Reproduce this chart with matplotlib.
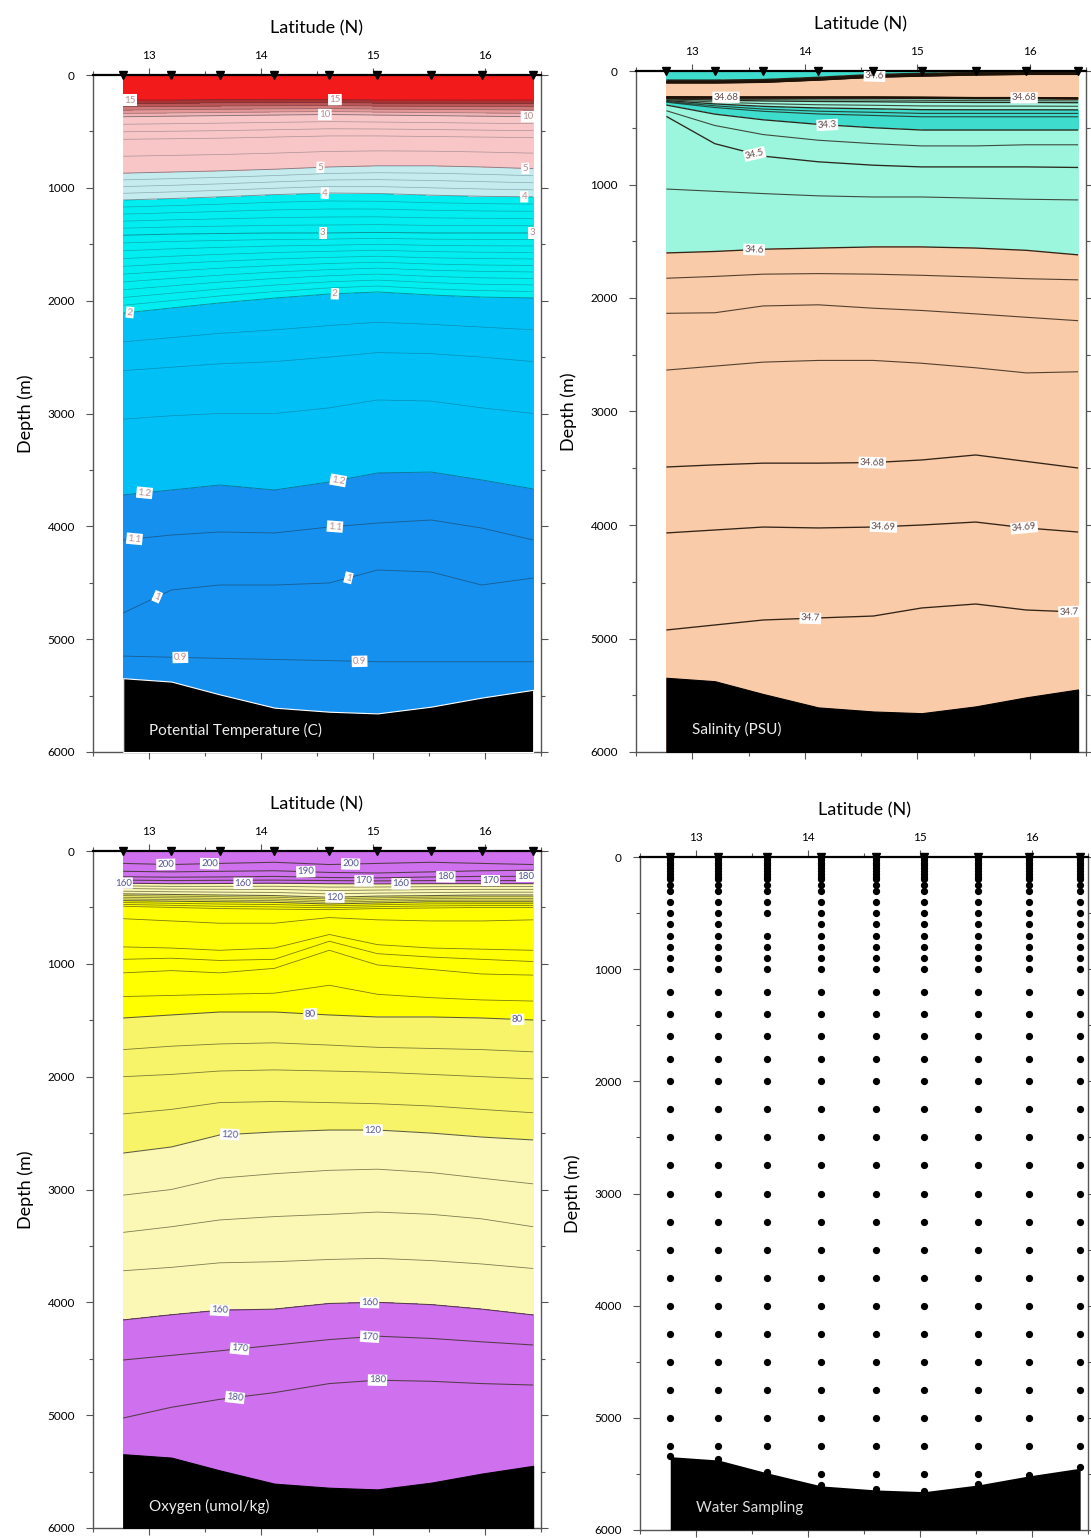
import numpy as np
import matplotlib
matplotlib.use('Agg')
import matplotlib.pyplot as plt

plt.rcParams['font.family'] = ['Lato', 'DejaVu Sans']

W, H = 1091, 1538

# station positions (deg N) and bottom depth (m)
lat = [12.77, 13.20, 13.63, 14.12, 14.61, 15.04, 15.52, 15.97, 16.43]
bottom = [5346, 5376, 5489, 5607, 5643, 5658, 5598, 5518, 5449]

# potential temperature: value of each isotherm and its depth at every station
temp_val = [26.0, 20.0, 15.0, 10.0, 7.0, 5.0, 4.0, 3.0, 2.0, 1.6, 1.4, 1.2, 1.1, 1.0, 0.9, 0.85]
temp_dep = [
    [0, 0, 0, 0, 0, 0, 0, 0, 0],
    [140, 140, 135, 135, 130, 130, 130, 130, 135],
    [222, 222, 218, 218, 218, 222, 222, 222, 222],
    [370, 365, 360, 355, 350, 355, 360, 365, 370],
    [570, 565, 560, 550, 540, 540, 545, 550, 555],
    [870, 860, 850, 835, 815, 805, 805, 815, 830],
    [1108, 1095, 1080, 1060, 1046, 1050, 1065, 1075, 1080],
    [1420, 1410, 1405, 1400, 1400, 1395, 1400, 1400, 1400],
    [2110, 2065, 2020, 1977, 1941, 1923, 1950, 1968, 1976],
    [2620, 2590, 2560, 2540, 2500, 2460, 2470, 2500, 2540],
    [3050, 3020, 3000, 3000, 2950, 2880, 2890, 2950, 3000],
    [3722, 3678, 3634, 3678, 3607, 3527, 3519, 3589, 3669],
    [4121, 4077, 4050, 4059, 4006, 3971, 3944, 4015, 4121],
    [4768, 4564, 4520, 4520, 4502, 4387, 4405, 4520, 4458],
    [5150, 5160, 5170, 5180, 5190, 5200, 5200, 5200, 5200],
    [6000, 6000, 6000, 6000, 6000, 6000, 6000, 6000, 6000],
]

# salinity
sal_val = [34.20, 34.30, 34.60, 34.71, 34.74, 34.71, 34.60, 34.18, 34.30, 34.40, 34.50,
           34.55, 34.60, 34.62, 34.64, 34.66, 34.68, 34.69, 34.70, 34.71]
sal_dep = [
    [0, 0, 0, 0, 0, 0, 0, 0, 0],
    [80, 80, 75, 55, 30, 20, 12, 8, 8],
    [95, 95, 90, 70, 45, 35, 25, 20, 20],
    [106, 106, 101, 81, 56, 46, 36, 31, 31],
    [165, 165, 165, 165, 165, 165, 165, 165, 165],
    [226, 228, 228, 228, 228, 230, 233, 233, 236],
    [238, 240, 240, 240, 240, 242, 245, 245, 248],
    [270, 310, 340, 360, 370, 380, 380, 380, 380],
    [300, 380, 430, 470, 500, 520, 520, 520, 520],
    [350, 480, 560, 610, 640, 660, 660, 650, 650],
    [400, 640, 750, 800, 830, 845, 845, 845, 850],
    [1040, 1060, 1080, 1100, 1110, 1110, 1120, 1130, 1136],
    [1603, 1590, 1570, 1560, 1550, 1550, 1560, 1580, 1620],
    [1826, 1810, 1790, 1785, 1790, 1800, 1815, 1830, 1840],
    [2135, 2130, 2070, 2060, 2090, 2110, 2140, 2170, 2200],
    [2635, 2600, 2565, 2550, 2550, 2575, 2615, 2660, 2650],
    [3489, 3470, 3455, 3455, 3450, 3427, 3383, 3440, 3498],
    [4070, 4044, 4018, 4026, 4018, 4000, 3974, 4026, 4062],
    [4925, 4881, 4837, 4819, 4802, 4731, 4696, 4749, 4767],
    [6000, 6000, 6000, 6000, 6000, 6000, 6000, 6000, 6000],
]

# dissolved oxygen (umol/kg)
oxy_val = [204, 200, 190, 180, 170, 160, 120, 80, 50, 40, 36, 40, 50, 60, 70, 80,
           90, 100, 110, 120, 130, 140, 150, 160, 170, 180, 186]
oxy_dep = [
    [0, 0, 0, 0, 0, 0, 0, 0, 0],
    [110, 120, 110, 100, 120, 110, 100, 110, 120],
    [180, 185, 180, 175, 190, 195, 185, 175, 170],
    [228, 232, 230, 225, 235, 238, 230, 225, 225],
    [258, 262, 260, 258, 262, 265, 262, 262, 262],
    [285, 290, 288, 285, 290, 292, 290, 290, 290],
    [380, 385, 390, 395, 410, 400, 395, 390, 390],
    [440, 445, 450, 455, 470, 460, 450, 450, 450],
    [490, 500, 510, 515, 520, 510, 505, 500, 500],
    [600, 620, 640, 640, 590, 610, 620, 620, 610],
    [760, 760, 780, 780, 680, 730, 760, 760, 760],
    [850, 860, 880, 860, 740, 830, 860, 870, 880],
    [960, 950, 970, 960, 800, 910, 940, 960, 980],
    [1080, 1060, 1080, 1040, 880, 1010, 1050, 1090, 1100],
    [1290, 1280, 1270, 1260, 1190, 1270, 1300, 1320, 1330],
    [1480, 1453, 1427, 1427, 1453, 1471, 1471, 1480, 1498],
    [1760, 1730, 1710, 1700, 1720, 1740, 1750, 1760, 1780],
    [2000, 1980, 1950, 1940, 1950, 1960, 1980, 2000, 2020],
    [2330, 2290, 2230, 2220, 2230, 2240, 2260, 2290, 2320],
    [2677, 2623, 2517, 2490, 2473, 2473, 2500, 2535, 2561],
    [3050, 3000, 2900, 2860, 2830, 2820, 2850, 2900, 2950],
    [3380, 3330, 3270, 3240, 3220, 3200, 3220, 3260, 3330],
    [3720, 3690, 3650, 3640, 3620, 3610, 3630, 3660, 3700],
    [4156, 4110, 4070, 4060, 4010, 4000, 4020, 4060, 4112],
    [4511, 4470, 4430, 4380, 4330, 4300, 4320, 4350, 4378],
    [5025, 4930, 4860, 4800, 4720, 4690, 4700, 4720, 4733],
    [6000, 6000, 6000, 6000, 6000, 6000, 6000, 6000, 6000],
]

# bottle depths (m); plus one near-bottom bottle at each station
bottles = [5, 25, 50, 75, 100, 125, 150, 175, 200, 250, 300, 400, 500, 600, 700,
           800, 900, 1000, 1200, 1400, 1600, 1800, 2000, 2250, 2500, 2750, 3000,
           3250, 3500, 3750, 4000, 4250, 4500, 4750, 5000, 5250, 5500]
skipped = {2: [600]}

# contour levels, band colours and label places
temp_bands = [0.8, 1.2, 2.0, 4.0, 5.0, 10, 11, 12, 13, 14, 15, 30]
temp_cols = ['#1690ee', '#00c0f6', '#00eef0', '#c4ecee', '#f8c6c6', '#f2b4b4',
             '#e49898', '#d07a7a', '#bc5656', '#a83434', '#f21a1a']
temp_lines = [1.4, 1.6, 1.8, 2.1, 2.2, 2.3, 2.4, 2.5, 2.6, 2.7, 2.8, 2.9, 3.2, 3.4,
              3.6, 3.8, 4.25, 4.5, 4.75, 6, 7, 8, 9, 11, 12, 13, 14]
temp_lab = [0.9, 1.0, 1.1, 1.2, 2, 3, 4, 5, 10, 15]
temp_pos = [(12.83, 222), (14.66, 220), (14.57, 355), (16.38, 370), (14.53, 815),
            (16.36, 830), (14.57, 1050), (16.35, 1080), (14.55, 1400), (16.42, 1400),
            (12.83, 2110), (14.66, 1945), (12.96, 3710), (14.69, 3600), (12.87, 4110),
            (14.66, 4005), (13.08, 4640), (14.78, 4450), (13.28, 5162), (14.88, 5200)]

sal_bands = [34.0, 34.3, 34.6, 35.0]
sal_cols = ['#3edccc', '#9cf6de', '#f9cba8']
sal_lines = [34.2, 34.4, 34.55, 34.62, 34.64, 34.66]
sal_lab = [34.3, 34.5, 34.6, 34.68, 34.69, 34.7]
sal_pos = [(14.62, 45), (13.3, 232), (15.95, 238), (14.2, 485), (13.55, 755),
           (13.55, 1572), (14.6, 3452), (14.7, 4018), (15.95, 4026), (14.05, 4820),
           (16.35, 4767)]

oxy_bands = [0, 80, 120, 160, 250]
oxy_cols = ['#ffff00', '#f7f46a', '#fbf8b6', '#cf70ee']
oxy_lines = [40, 50, 60, 70, 90, 100, 110, 130, 140, 150]
oxy_lab = [80, 120, 160, 170, 180, 190, 200]
oxy_pos = [(12.62, 288), (13.15, 115), (13.54, 112), (13.84, 286), (14.4, 183),
           (14.8, 115), (14.92, 262), (15.25, 291), (15.65, 228), (16.05, 262),
           (16.36, 225), (14.66, 405), (14.44, 1445), (16.29, 1495), (13.72, 2510),
           (15.0, 2470), (13.63, 4070), (14.97, 4003), (13.81, 4420), (14.97, 4300),
           (13.77, 4870), (15.04, 4690)]


def rect(l, t, r, b):
    return [l / W, 1 - b / H, (r - l) / W, (b - t) / H]


def setup(ax):
    ax.set_xlim(12.5, 16.5)
    ax.set_ylim(6000, 0)
    ax.set_xticks([13, 14, 15, 16])
    ax.set_xticks(np.arange(12.5, 16.51, 0.5), minor=True)
    ax.set_yticks(np.arange(0, 6001, 1000))
    ax.set_yticks(np.arange(500, 6000, 1000), minor=True)
    ax.tick_params(axis='x', which='both', top=True, bottom=True, labeltop=True,
                   labelbottom=False, direction='out', labelsize=8.5, pad=5)
    ax.tick_params(axis='y', which='both', left=True, right=True, labelleft=True,
                   labelright=False, direction='out', labelsize=8.5, pad=8)
    ax.tick_params(which='major', length=5, width=0.8, color='#555555')
    ax.tick_params(which='minor', length=3, width=0.8, color='#555555')
    ax.xaxis.set_label_position('top')
    ax.set_xlabel('Latitude (N)', fontsize=13, labelpad=12)
    ax.set_ylabel('Depth (m)', fontsize=13, labelpad=10)
    for s in ax.spines.values():
        s.set_color('#555555')
        s.set_linewidth(1.0)
    ax.spines['top'].set_color('black')
    ax.spines['top'].set_linewidth(1.6)


def field(vals, deps):
    Y = np.array(deps, dtype=float)
    X = np.tile(np.array(lat), (Y.shape[0], 1))
    Z = np.repeat(np.array(vals, dtype=float)[:, None], len(lat), axis=1)
    return X, Y, Z


def section(ax, vals, deps, bands, cols, lines, labs, pos, lcol, lalpha, lw, tcol, title, edge):
    X, Y, Z = field(vals, deps)
    ax.contourf(X, Y, Z, levels=bands, colors=cols, zorder=1)
    ax.contour(X, Y, Z, levels=lines, colors=lcol, linewidths=lw, alpha=lalpha, zorder=2)
    cs = ax.contour(X, Y, Z, levels=labs, colors=lcol, linewidths=lw + 0.15,
                    alpha=min(1, lalpha + 0.15), zorder=2)
    txt = ax.clabel(cs, manual=pos, inline=True, inline_spacing=2, fontsize=7,
                    fmt=lambda v: f'{v:g}', colors=tcol)
    for t in txt:
        t.set_bbox(dict(boxstyle='square,pad=0.12', fc='white', ec='none'))
        t.set_zorder(4)
    ax.fill_between(lat, bottom, 6000, color='black', edgecolor=edge, linewidth=0.8, zorder=5)
    ax.plot(lat, [0] * len(lat), 'v', color='black', ms=6, clip_on=False, zorder=10)
    ax.text(13.0, 5805, title, color='#eeeeee', fontsize=11, va='center', zorder=6)
    setup(ax)


fig = plt.figure(figsize=(W / 100, H / 100), dpi=100)

ax1 = fig.add_axes(rect(93, 75, 541, 752))
section(ax1, temp_val, temp_dep, temp_bands, temp_cols, temp_lines, temp_lab, temp_pos,
        '#1a3040', 0.35, 0.5, '#6e1c1c', 'Potential Temperature (C)', 'white')

ax2 = fig.add_axes(rect(636, 71, 1086, 752))
section(ax2, sal_val, sal_dep, sal_bands, sal_cols, sal_lines, sal_lab, sal_pos,
        '#1e1208', 0.75, 0.8, '#5a3a3a', 'Salinity (PSU)', 'black')

ax3 = fig.add_axes(rect(93, 851, 541, 1528))
section(ax3, oxy_val, oxy_dep, oxy_bands, oxy_cols, oxy_lines, oxy_lab, oxy_pos,
        '#2a2a10', 0.6, 0.6, '#1c1c6e', 'Oxygen (umol/kg)', 'black')

ax4 = fig.add_axes(rect(640, 857, 1088, 1530))
for i, la in enumerate(lat):
    z = [d for d in bottles if d < bottom[i] - 50 and d not in skipped.get(i, [])]
    z.append(bottom[i] - 10)
    ax4.plot([la] * len(z), z, 'o', color='black', ms=4.2, zorder=6)
ax4.fill_between(lat, bottom, 6000, color='black', linewidth=0, zorder=5)
ax4.plot(lat, [0] * len(lat), 'v', color='black', ms=6, clip_on=False, zorder=10)
ax4.text(13.0, 5805, 'Water Sampling', color='#dddddd', fontsize=11, va='center', zorder=7)
setup(ax4)

fig.savefig('out.png', dpi=100)
